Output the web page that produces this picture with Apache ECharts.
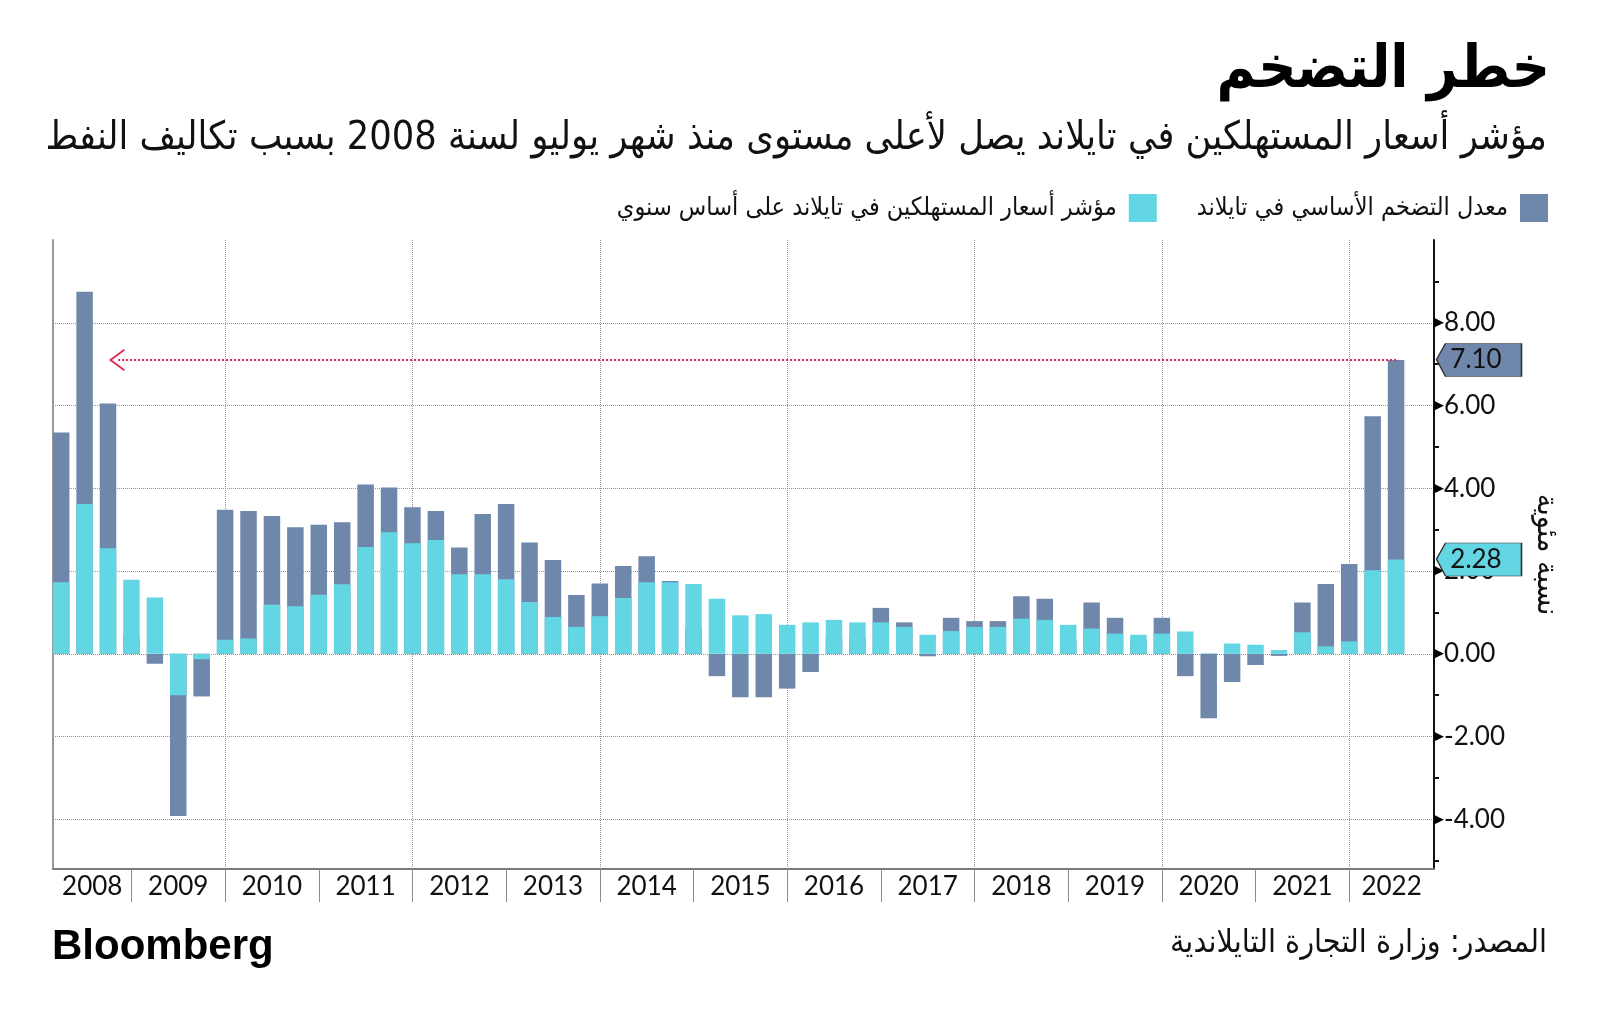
<!DOCTYPE html>
<html>
<head>
<meta charset="utf-8">
<script src="https://cdn.jsdelivr.net/npm/echarts@6/dist/echarts.min.js"></script>
<style>
html,body{margin:0;padding:0;background:#fff;}
#chart{width:1600px;height:1023px;}
</style>
</head>
<body>
<div id="chart"></div>
<script>
// ---------- data ----------
const quarters = [
 '2008Q1','2008Q2','2008Q3','2008Q4','2009Q1','2009Q2','2009Q3','2009Q4',
 '2010Q1','2010Q2','2010Q3','2010Q4','2011Q1','2011Q2','2011Q3','2011Q4',
 '2012Q1','2012Q2','2012Q3','2012Q4','2013Q1','2013Q2','2013Q3','2013Q4',
 '2014Q1','2014Q2','2014Q3','2014Q4','2015Q1','2015Q2','2015Q3','2015Q4',
 '2016Q1','2016Q2','2016Q3','2016Q4','2017Q1','2017Q2','2017Q3','2017Q4',
 '2018Q1','2018Q2','2018Q3','2018Q4','2019Q1','2019Q2','2019Q3','2019Q4',
 '2020Q1','2020Q2','2020Q3','2020Q4','2021Q1','2021Q2','2021Q3','2021Q4',
 '2022Q1','2022Q2'
];
// dark series (legend: معدل التضخم الأساسي في تايلاند)
const darkValues = [
 5.35, 8.75, 6.05, 0.40, -0.24, -3.92, -1.03, 3.48,
 3.45, 3.33, 3.06, 3.12, 3.18, 4.09, 4.02, 3.54,
 3.45, 2.57, 3.38, 3.62, 2.69, 2.27, 1.42, 1.70,
 2.12, 2.36, 1.76, 0.60, -0.54, -1.05, -1.05, -0.84,
 -0.44, 0.38, 0.38, 1.11, 0.76, -0.06, 0.87, 0.79,
 0.79, 1.39, 1.33, 0.36, 1.24, 0.87, 0.32, 0.87,
 -0.54, -1.56, -0.68, -0.27, -0.05, 1.24, 1.69, 2.17,
 5.74, 7.10
];
// cyan series (legend: مؤشر أسعار المستهلكين في تايلاند على أساس سنوي)
const cyanValues = [
 1.73, 3.62, 2.55, 1.79, 1.36, -1.00, -0.13, 0.34,
 0.37, 1.19, 1.15, 1.43, 1.68, 2.58, 2.94, 2.67,
 2.75, 1.92, 1.92, 1.80, 1.25, 0.89, 0.65, 0.91,
 1.35, 1.73, 1.73, 1.69, 1.33, 0.93, 0.96, 0.70,
 0.76, 0.82, 0.76, 0.76, 0.65, 0.46, 0.55, 0.65,
 0.65, 0.85, 0.82, 0.70, 0.61, 0.49, 0.46, 0.49,
 0.54, 0.01, 0.25, 0.22, 0.09, 0.52, 0.18, 0.30,
 2.02, 2.28
];
const years = [2008,2009,2010,2011,2012,2013,2014,2015,2016,2017,2018,2019,2020,2021,2022];
const yTickValues = [-4,-2,0,2,4,6,8];
const yMinorValues = [-5,-3,-1,1,3,5,7,9];

const darkName = 'معدل التضخم الأساسي في تايلاند';
const cyanName = 'مؤشر أسعار المستهلكين في تايلاند على أساس سنوي';
const titleText = 'خطر التضخم';
const subtitleText = 'مؤشر أسعار المستهلكين في تايلاند يصل لأعلى مستوى منذ شهر يوليو لسنة 2008 بسبب تكاليف النفط';
const sourceText = 'المصدر: وزارة التجارة التايلاندية';
const unitText = 'نسبة مئوية';

// ---------- axis helpers (x in quarters since start of 2008; bars at quarter end) ----------
const X_MIN = 0.651, X_MAX = 59.62;
const qPos = i => i + 1;
const darkData = darkValues.map((v, i) => [qPos(i), v]);
const cyanData = cyanValues.map((v, i) => [qPos(i), v]);
const yearStarts = years.slice(1).map((y, k) => (k + 1) * 4);          // year separators
const gridYearStarts = yearStarts.filter((q, k) => (k % 2) === 1);      // every 2 years
const yearLabelPos = years.map((y, k) => {
  const a = Math.max(k * 4, X_MIN), b = Math.min(k * 4 + 4, X_MAX);
  return (a + b) / 2;
});
const lastIdx = quarters.length - 1;
const arrowTargetIdx = 2; // pointing towards 2008 Q3

const AR = "'DejaVu Sans Condensed','DejaVu Sans',sans-serif";
const NUM = "Lato,'Open Sans',sans-serif";
const DARK = '#6f87ab', CYAN = '#63d6e4';

const chart = echarts.init(document.getElementById('chart'), null, {renderer: 'canvas'});
chart.setOption({
  animation: false,
  backgroundColor: '#ffffff',
  title: [
    {text: titleText, right: 50, top: 42, padding: 0,
     textStyle: {fontFamily: AR, fontSize: 59, fontWeight: 'bold', color: '#000'}},
    {text: subtitleText, right: 53, top: 119, padding: 0,
     textStyle: {fontFamily: AR, fontSize: 39.3, fontWeight: 'normal', color: '#111'}},
    {text: sourceText, right: 53, top: 928, padding: 0,
     textStyle: {fontFamily: AR, fontSize: 32, fontWeight: 'normal', color: '#111'}},
    {text: 'Bloomberg', left: 52, top: 926, padding: 0,
     textStyle: {fontFamily: "'Liberation Sans',Arial,sans-serif", fontSize: 42, fontWeight: 'bold', color: '#000'}}
  ],
  legend: {
    data: [cyanName, darkName],
    right: 52, top: 194, orient: 'horizontal', align: 'right', padding: 0,
    itemWidth: 28, itemHeight: 28, itemGap: 40, icon: 'rect', selectedMode: false,
    textStyle: {fontFamily: AR, fontSize: 25, color: '#111', padding: [0, 7, 0, 0]}
  },
  grid: {left: 53, right: 166, top: 240, bottom: 154, containLabel: false},
  xAxis: [
    {type: 'value', min: X_MIN, max: X_MAX, position: 'bottom',
     axisLine: {show: true, onZero: false, lineStyle: {color: '#7a7a7a', width: 2}},
     axisTick: {show: true, customValues: yearStarts, length: 33, lineStyle: {color: '#8a8a8a', width: 1}},
     axisLabel: {show: true, customValues: yearLabelPos, margin: 5,
       formatter: v => String(years[Math.min(years.length - 1, Math.floor(v / 4))]),
       fontFamily: NUM, fontSize: 26, color: '#111'},
     splitLine: {show: false}},
    {type: 'value', min: X_MIN, max: X_MAX, position: 'bottom',
     axisLine: {show: false, onZero: false}, axisLabel: {show: false},
     axisTick: {show: false, customValues: gridYearStarts},
     splitLine: {show: true, lineStyle: {color: '#959595', type: 'dotted', width: 1}}}
  ],
  yAxis: [
    {type: 'value', min: -5.2, max: 10, position: 'right',
     name: unitText, nameLocation: 'middle', nameRotate: -90, nameGap: 97,
     nameTextStyle: {fontFamily: AR, fontSize: 30, color: '#111'},
     axisLine: {show: true, onZero: false, lineStyle: {color: '#111', width: 2}},
     axisTick: {show: false, customValues: yTickValues},
     axisLabel: {show: true, customValues: yTickValues, margin: 0,
       formatter: v => '{t|▶}{v|' + v.toFixed(2) + '}',
       rich: {t: {fontFamily: "'DejaVu Sans'", fontSize: 13, color: '#000'},
              v: {fontFamily: NUM, fontSize: 26, color: '#111'}}},
     splitLine: {show: true, lineStyle: {color: '#959595', type: 'dotted', width: 1}}},
    {type: 'value', min: -5.2, max: 10, position: 'right',
     axisLine: {show: false, onZero: false}, axisLabel: {show: false}, splitLine: {show: false},
     axisTick: {show: true, customValues: yMinorValues, length: 5, lineStyle: {color: '#111', width: 2}}},
    {type: 'value', min: -5.2, max: 10, position: 'left',
     axisLine: {show: true, onZero: false, lineStyle: {color: '#999', width: 2}},
     axisLabel: {show: false}, axisTick: {show: false}, splitLine: {show: false}}
  ],
  series: [
    {name: darkName, type: 'bar', xAxisIndex: 0, yAxisIndex: 0, data: darkData,
     barWidth: 16.5, barGap: '-100%', clip: false, z: 2,
     itemStyle: {color: DARK},
     markPoint: {
       silent: true, z: 10,
       symbol: 'path://M0,16 L9,0 L85,0 L85,33 L9,33 Z', symbolSize: [85, 33], symbolKeepAspect: false,
       symbolOffset: [45, 0],
       itemStyle: {color: DARK, borderColor: '#333', borderWidth: 1},
       label: {show: true, formatter: p => p.value.toFixed(2), fontFamily: NUM, fontSize: 26, color: '#111', offset: [-3, 0]},
       data: [{coord: [X_MAX, darkValues[lastIdx]], value: darkValues[lastIdx]}]
     },
     markLine: {
       silent: true, z: 9,
       symbol: ['none', 'path://M0,15 L11,0 L22,15 L20.5,16 L11,3 L1.5,16 Z'], symbolSize: [22, 16],
       label: {show: false},
       lineStyle: {color: '#e3264d', type: 'dotted', width: 2},
       emphasis: {disabled: true},
       data: [[{coord: [qPos(lastIdx), darkValues[lastIdx]]}, {coord: [qPos(arrowTargetIdx) + 0.38, darkValues[lastIdx]]}]]
     }},
    {name: cyanName, type: 'bar', xAxisIndex: 0, yAxisIndex: 0, data: cyanData,
     barWidth: 16.5, barGap: '-100%', clip: false, z: 3,
     itemStyle: {color: CYAN},
     markPoint: {
       silent: true, z: 10,
       symbol: 'path://M0,16 L9,0 L85,0 L85,33 L9,33 Z', symbolSize: [85, 33], symbolKeepAspect: false,
       symbolOffset: [45, 0],
       itemStyle: {color: CYAN, borderColor: '#333', borderWidth: 1},
       label: {show: true, formatter: p => p.value.toFixed(2), fontFamily: NUM, fontSize: 26, color: '#111', offset: [-3, 0]},
       data: [{coord: [X_MAX, cyanValues[lastIdx]], value: cyanValues[lastIdx]}]
     }}
  ]
});
</script>
</body>
</html>
